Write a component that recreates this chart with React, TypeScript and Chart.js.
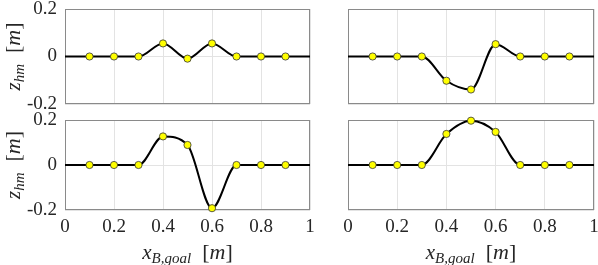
import React, { useEffect, useRef } from "react";
import { Chart, registerables } from "chart.js";

Chart.register(...registerables);

// ---- data ----
const xValues = [0, 0.1, 0.2, 0.3, 0.4, 0.5, 0.6, 0.7, 0.8, 0.9, 1];
const markerShown = [false, true, true, true, true, true, true, true, true, true, false];
const zTopLeft = [0, 0, 0, 0, 0.055, -0.009, 0.055, 0, 0, 0, 0];
const zTopRight = [0, 0, 0, 0, -0.102, -0.139, 0.052, 0, 0, 0, 0];
const zBottomLeft = [0, 0, 0, 0, 0.127, 0.089, -0.192, 0, 0, 0, 0];
const zBottomRight = [0, 0, 0, 0, 0.138, 0.197, 0.147, 0, 0, 0, 0];
const yTickValues = [-0.2, 0, 0.2];
const xTickValues = [0, 0.2, 0.4, 0.6, 0.8, 1];

const FONT = '"Liberation Serif", "DejaVu Serif", serif';
const TEXT_COLOR = "#262626";

type Seg = { text: string; italic?: boolean; size: number; dy?: number };

function drawRich(ctx: CanvasRenderingContext2D, segs: Seg[], cx: number, cy: number) {
  let total = 0;
  const widths = segs.map((s) => {
    ctx.font = `${s.italic ? "italic " : ""}${s.size}px ${FONT}`;
    const w = ctx.measureText(s.text).width;
    total += w;
    return w;
  });
  let x = cx - total / 2;
  ctx.textBaseline = "alphabetic";
  ctx.textAlign = "left";
  ctx.fillStyle = TEXT_COLOR;
  segs.forEach((s, i) => {
    ctx.font = `${s.italic ? "italic " : ""}${s.size}px ${FONT}`;
    ctx.fillText(s.text, x, cy + (s.dy || 0));
    x += widths[i];
  });
}

const yTitleSegs: Seg[] = [
  { text: "z", italic: true, size: 21 },
  { text: "hm", italic: true, size: 15, dy: 4 },
  { text: "  [", size: 22 },
  { text: "m", italic: true, size: 22 },
  { text: "]", size: 22 },
];
const xTitleSegs: Seg[] = [
  { text: "x", italic: true, size: 21 },
  { text: "B,goal", italic: true, size: 15, dy: 4 },
  { text: "  [", size: 22 },
  { text: "m", italic: true, size: 22 },
  { text: "]", size: 22 },
];

type PanelProps = {
  values: number[];
  left: number;
  top: number;
  w: number;
  h: number;
  plotLeft: number;
  plotTop: number;
  plotRight: number;
  plotBottom: number;
  showYTicks: boolean;
  showXTicks: boolean;
  showYTitle: boolean;
  showXTitle: boolean;
};

function Panel(p: PanelProps) {
  const ref = useRef<HTMLCanvasElement | null>(null);
  useEffect(() => {
    if (!ref.current) return;
    const boxPlugin = {
      id: "boxAndTitles",
      beforeDatasetsDraw(chart: any) {
        const { ctx, chartArea } = chart;
        ctx.save();
        ctx.strokeStyle = "#8a8a8a";
        ctx.lineWidth = 1;
        ctx.strokeRect(
          Math.round(chartArea.left) + 0.5,
          Math.round(chartArea.top) + 0.5,
          Math.round(chartArea.right - chartArea.left) - 1,
          Math.round(chartArea.bottom - chartArea.top) - 1
        );
        ctx.restore();
      },
      afterDraw(chart: any) {
        const { ctx } = chart;
        ctx.save();
        if (p.showYTitle) {
          const cy = (p.plotTop + p.plotBottom) / 2 - p.top;
          ctx.translate(20 - p.left, cy);
          ctx.rotate(-Math.PI / 2);
          drawRich(ctx, yTitleSegs, 0, 0);
          ctx.setTransform(1, 0, 0, 1, 0, 0);
        }
        if (p.showXTitle) {
          const cx = (p.plotLeft + p.plotRight) / 2 - p.left;
          drawRich(ctx, xTitleSegs, cx, 259 - p.top);
        }
        ctx.restore();
      },
    };
    const tickFont = { family: FONT, size: 19, lineHeight: 0.8 };
    const chart = new Chart(ref.current, {
      type: "line",
      data: {
        datasets: [
          {
            data: xValues.map((x, i) => ({ x, y: p.values[i] })),
            borderColor: "#000000",
            borderWidth: 2,
            cubicInterpolationMode: "monotone",
            pointRadius: markerShown.map((m) => (m ? 3.6 : 0)),
            pointBackgroundColor: "#ffff00",
            pointBorderColor: "#333333",
            pointBorderWidth: 0.8,
            clip: false as any,
          },
        ],
      },
      options: {
        responsive: false,
        animation: false,
        events: [],
        layout: {
          padding: {
            top: p.plotTop - p.top,
            right: p.left + p.w - p.plotRight,
            left: 0,
            bottom: 0,
          },
        },
        plugins: { legend: { display: false }, tooltip: { enabled: false } },
        scales: {
          x: {
            type: "linear",
            min: 0,
            max: 1,
            afterBuildTicks: (s: any) => {
              s.ticks = xTickValues.map((v) => ({ value: v }));
            },
            ticks: {
              display: p.showXTicks,
              padding: 0,
              font: tickFont,
              color: TEXT_COLOR,
              maxRotation: 0,
              autoSkip: false,
              callback: (v: any) => String(Number(Number(v).toFixed(1))),
            },
            grid: { color: "#e3e3e3", drawTicks: true, tickLength: 9, tickColor: "rgba(0,0,0,0)", lineWidth: 1 },
            border: { display: false },
            afterFit: (s: any) => {
              s.height = p.top + p.h - p.plotBottom;
            },
          },
          y: {
            type: "linear",
            min: -0.2,
            max: 0.2,
            afterBuildTicks: (s: any) => {
              s.ticks = yTickValues.map((v) => ({ value: v }));
            },
            ticks: {
              display: p.showYTicks,
              padding: 0,
              font: tickFont,
              color: TEXT_COLOR,
              callback: (v: any) => String(Number(Number(v).toFixed(1))),
            },
            grid: { color: "#e3e3e3", drawTicks: true, tickLength: 8, tickColor: "rgba(0,0,0,0)", lineWidth: 1 },
            border: { display: false },
            afterFit: (s: any) => {
              s.width = p.plotLeft - p.left;
            },
          },
        },
      } as any,
      plugins: [boxPlugin],
    });
    return () => chart.destroy();
  }, []);
  return (
    <canvas
      ref={ref}
      width={p.w}
      height={p.h}
      style={{ position: "absolute", left: p.left, top: p.top, width: p.w, height: p.h }}
    />
  );
}

export default function App() {
  return (
    <div style={{ position: "absolute", left: 0, top: 0, width: 598, height: 265, background: "#fff", overflow: "hidden" }}>
      <Panel values={zTopLeft} left={0} top={0} w={320} h={112} plotLeft={65} plotTop={9} plotRight={310} plotBottom={104}
        showYTicks showXTicks={false} showYTitle showXTitle={false} />
      <Panel values={zTopRight} left={320} top={0} w={290} h={112} plotLeft={348} plotTop={9} plotRight={594} plotBottom={104}
        showYTicks={false} showXTicks={false} showYTitle={false} showXTitle={false} />
      <Panel values={zBottomLeft} left={0} top={112} w={320} h={153} plotLeft={65} plotTop={120} plotRight={310} plotBottom={210}
        showYTicks showXTicks showYTitle showXTitle />
      <Panel values={zBottomRight} left={320} top={112} w={290} h={153} plotLeft={348} plotTop={120} plotRight={594} plotBottom={210}
        showYTicks={false} showXTicks showYTitle={false} showXTitle />
    </div>
  );
}
